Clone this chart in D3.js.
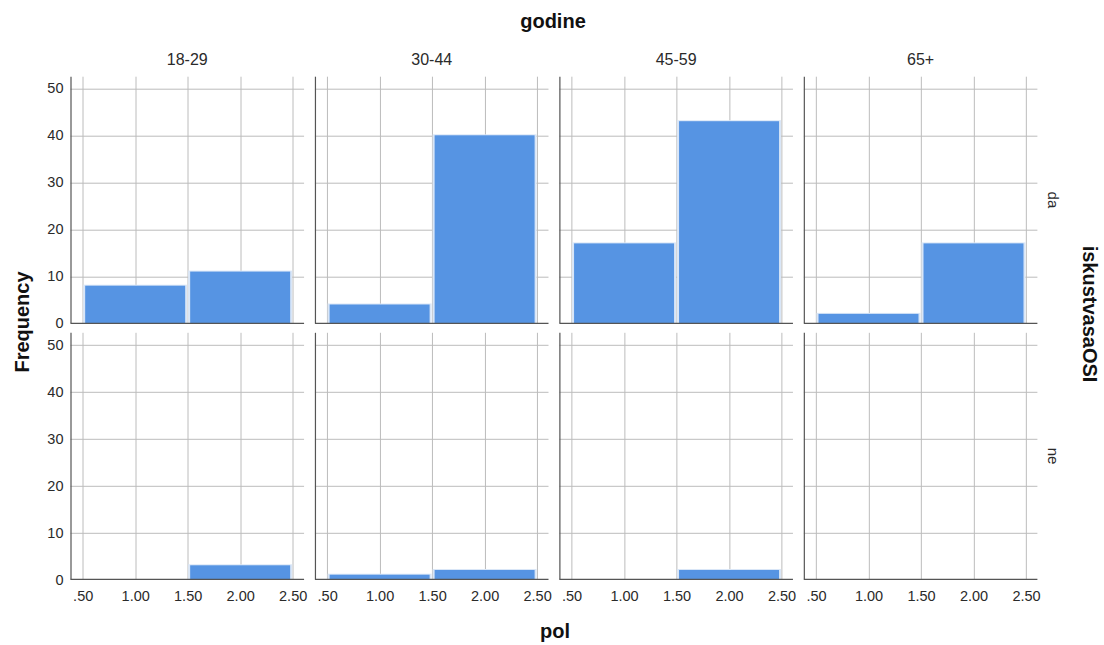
<!DOCTYPE html>
<html><head><meta charset="utf-8">
<script src="https://cdn.jsdelivr.net/npm/d3@7"></script>
<style>
body{margin:0;background:#fff;}
svg{display:block;font-family:Arial,"Liberation Sans",sans-serif;}
</style></head>
<body><svg id="c" width="1104" height="645"></svg>
<script>
// ---- data ----
const columns = ["18-29", "30-44", "45-59", "65+"];
const rows = ["da", "ne"];
const binStarts = [0.5, 1.5];
const binWidth = 1.0;
const daValues = [[8, 11], [4, 40], [17, 43], [2, 17]];
const neValues = [[0, 3], [1, 2], [0, 2], [0, 0]];
const xTicks = [0.5, 1.0, 1.5, 2.0, 2.5];
const xTickLabels = [".50", "1.00", "1.50", "2.00", "2.50"];
const yTicks = [0, 10, 20, 30, 40, 50];
const title = "godine", xTitle = "pol", yTitle = "Frequency", rowTitle = "iskustvasaOSI";

// ---- layout ----
const svg = d3.select("#c");
const panelW = 233.5, panelH = 246.6;
const colScale = d3.scaleBand().domain(columns).range([70.5, 1037.4]).paddingInner(0.0445).paddingOuter(0);
const rowScale = d3.scaleBand().domain(rows).range([76.7, 579.3]).paddingInner(0.0375).paddingOuter(0);
const x = d3.scaleLinear().domain([0.384, 2.608]).range([0, panelW]);
const y = d3.scaleLinear().domain([0, 52.47]).range([panelH, 0]);
const values = {da: daValues, ne: neValues};

const grid = "#bcbcbc", axisCol = "#555", barCol = "#5694e3", textCol = "#2a2a2a";

rows.forEach(r => {
  columns.forEach((c, ci) => {
    const g = svg.append("g").attr("transform", `translate(${colScale(c)},${rowScale(r)})`);
    const pw = colScale.bandwidth(), ph = rowScale.bandwidth();
    // horizontal gridlines
    g.selectAll(".hg").data(yTicks.filter(t => t > 0)).join("line")
      .attr("x1", 0).attr("x2", pw).attr("y1", d => Math.round(y(d)) + 0.5).attr("y2", d => Math.round(y(d)) + 0.5)
      .attr("stroke", grid).attr("stroke-width", 1);
    // vertical gridlines
    g.selectAll(".vg").data(xTicks).join("line")
      .attr("x1", d => Math.round(x(d)) + 0.5).attr("x2", d => Math.round(x(d)) + 0.5)
      .attr("y1", 0).attr("y2", y(0))
      .attr("stroke", grid).attr("stroke-width", 1);
    // bars
    const vals = values[r][ci];
    const bars = binStarts.map((b, i) => ({x0: b, x1: b + binWidth, v: vals[i]})).filter(d => d.v > 0);
    g.selectAll(".bo").data(bars).join("rect")
      .attr("x", d => x(d.x0) + 0.5).attr("width", d => x(d.x1) - x(d.x0) - 1)
      .attr("y", d => y(d.v) - 1).attr("height", d => y(0) - y(d.v) + 1)
      .attr("fill", "#d9e6f7");
    g.selectAll(".bi").data(bars).join("rect")
      .attr("x", d => x(d.x0) + 2.5).attr("width", d => x(d.x1) - x(d.x0) - 5)
      .attr("y", d => y(d.v)).attr("height", d => y(0) - y(d.v))
      .attr("fill", barCol);
    // axes lines
    g.append("line").attr("x1", 0.5).attr("x2", 0.5).attr("y1", 0).attr("y2", y(0))
      .attr("stroke", axisCol).attr("stroke-width", 1.2);
    g.append("line").attr("x1", 0).attr("x2", pw).attr("y1", y(0)).attr("y2", y(0))
      .attr("stroke", axisCol).attr("stroke-width", 1.2);
    // y tick labels (first column only)
    if (ci === 0) {
      const ya = d3.axisLeft(y).tickValues(yTicks).tickSize(0).tickPadding(7).tickFormat(d3.format("d"));
      const ag = g.append("g").call(ya);
      ag.select(".domain").remove();
      ag.selectAll("text").attr("fill", textCol).style("font-size", "14.5px").style("font-family", "Arial,'Liberation Sans',sans-serif");
    }
    // x tick labels (bottom row only)
    if (r === rows[rows.length - 1]) {
      const xa = d3.axisBottom(x).tickValues(xTicks).tickSize(0).tickPadding(11).tickFormat((d, i) => xTickLabels[i]);
      const ag = g.append("g").attr("transform", `translate(0,${y(0)})`).call(xa);
      ag.select(".domain").remove();
      ag.selectAll("text").attr("fill", textCol).style("font-size", "14.5px").style("font-family", "Arial,'Liberation Sans',sans-serif");
    }
    // column header
    if (r === rows[0]) {
      svg.append("text").attr("x", colScale(c) + pw / 2).attr("y", 65)
        .attr("text-anchor", "middle").attr("fill", textCol).style("font-size", "16px").text(c);
    }
  });
  // row label
  const cy = rowScale(r) + rowScale.bandwidth() / 2;
  svg.append("text").attr("transform", `translate(1048,${cy}) rotate(90)`)
    .attr("text-anchor", "middle").attr("fill", textCol).style("font-size", "15px").text(r);
});

// titles
svg.append("text").attr("x", 553).attr("y", 28).attr("text-anchor", "middle")
  .style("font-size", "20px").style("font-weight", "bold").attr("fill", "#111").text(title);
svg.append("text").attr("x", 555).attr("y", 638).attr("text-anchor", "middle")
  .style("font-size", "20px").style("font-weight", "bold").attr("fill", "#111").text(xTitle);
svg.append("text").attr("transform", "translate(29,322) rotate(-90)").attr("text-anchor", "middle")
  .style("font-size", "20px").style("font-weight", "bold").attr("fill", "#111").text(yTitle);
svg.append("text").attr("transform", "translate(1083,314) rotate(90)").attr("text-anchor", "middle")
  .style("font-size", "20px").style("font-weight", "bold").attr("fill", "#111").text(rowTitle);
</script></body></html>
